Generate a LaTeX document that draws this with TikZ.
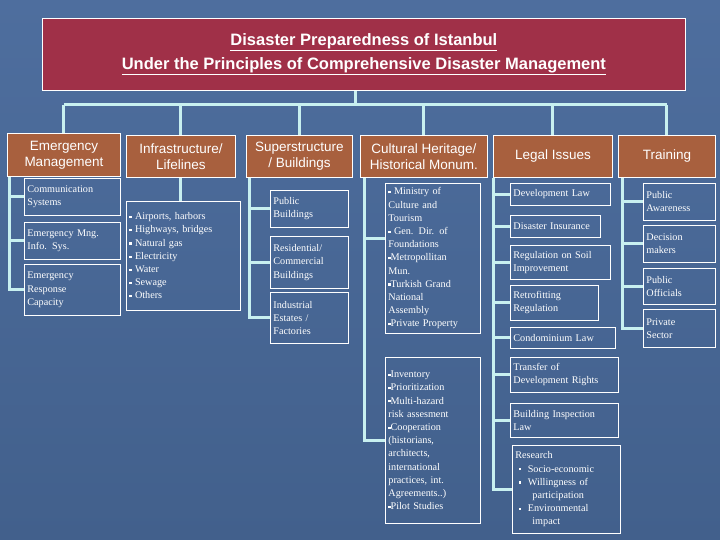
\documentclass[tikz,border=0pt]{standalone}
\usepackage{fontspec}
\setmainfont{Liberation Serif}
\newfontfamily\hdfont{Liberation Sans}
\newcommand\sq{\raisebox{.35ex}{\rule{2.2pt}{2.2pt}}}
\begin{document}
\begin{tikzpicture}[x=1pt,y=-1pt,
  conn/.style={draw={rgb,255:red,200;green,240;blue,240},line width=3pt},
  hd/.style={draw=white,line width=0.8pt,fill={rgb,255:red,168;green,96;blue,62},text=white,font=\hdfont\fontsize{13.5}{16}\selectfont,align=center,anchor=north west,inner sep=1pt},
  sb/.style={draw=white,line width=0.8pt,text=white,font=\fontsize{10.2}{13.2}\selectfont,align=left,anchor=north west,inner sep=3pt}]
\useasboundingbox (0,0) rectangle (720,540);
\shade[top color={rgb,255:red,78;green,110;blue,158},bottom color={rgb,255:red,66;green,96;blue,140}] (0,0) rectangle (720,540);
\node[draw=white,line width=0.8pt,fill={rgb,255:red,160;green,48;blue,72},text=white,font=\hdfont\bfseries\fontsize{16.5}{24}\selectfont,align=center,minimum width=643pt,minimum height=72pt,anchor=north west,inner sep=0pt] (title) at (42,18) {\underline{Disaster Preparedness of Istanbul}\\\underline{Under the Principles of Comprehensive Disaster Management}};
\coordinate (bar) at (355,105);
% headers
\node[hd,minimum width=113pt,minimum height=43pt] (em) at (7,133) {Emergency\\Management};
\node[hd,minimum width=109pt,minimum height=42pt] (inf) at (126,135) {Infrastructure/\\Lifelines};
\node[hd,minimum width=106pt,minimum height=42pt] (sup) at (246,135) {Superstructure\\/ Buildings};
\node[hd,minimum width=127pt,minimum height=42pt] (cul) at (360,135) {Cultural Heritage/\\Historical Monum.};
\node[hd,minimum width=119pt,minimum height=42pt] (leg) at (493,135) {Legal Issues};
\node[hd,minimum width=97pt,minimum height=42pt] (tr) at (618,135) {Training};
\draw[conn] (bar |- title.south) -- (bar);
\draw[conn] (em.north |- bar) -- (tr.north |- bar);
\foreach \n in {em,inf,sup,cul,leg,tr} \draw[conn] (\n.north) -- (\n.north |- bar);
% emergency
\node[sb,minimum width=96pt,minimum height=37pt,text width=90pt] (e1) at (24,178) {Communication\\Systems};
\node[sb,minimum width=96pt,minimum height=37pt,text width=90pt] (e2) at (24,222) {Emergency Mng.\\Info. Sys.};
\node[sb,minimum width=96pt,minimum height=51pt,text width=90pt] (e3) at (24,264) {Emergency\\Response\\Capacity};
\foreach \b in {e1,e2,e3} \draw[conn] ([xshift=2pt]em.south west) |- (\b.west);
% infrastructure
\node[sb,minimum width=114pt,minimum height=109pt,text width=108pt] (i1) at (126,201) {\sq\ Airports, harbors\\\sq\ Highways, bridges\\\sq\ Natural gas\\\sq\ Electricity\\\sq\ Water\\\sq\ Sewage\\\sq\ Others};
\draw[conn] (inf.south) -- (inf.south |- i1.north);
% superstructure
\node[sb,minimum width=78pt,minimum height=37pt,text width=72pt] (s1) at (270,190) {Public\\Buildings};
\node[sb,minimum width=78pt,minimum height=52pt,text width=72pt] (s2) at (270,236) {Residential/\\Commercial\\Buildings};
\node[sb,minimum width=78pt,minimum height=51pt,text width=72pt] (s3) at (270,292) {Industrial\\Estates /\\Factories};
\foreach \b in {s1,s2,s3} \draw[conn] ([xshift=3pt]sup.south west) |- (\b.west);
% cultural
\node[sb,minimum width=95pt,minimum height=150pt,text width=89pt] (c1) at (385,183) {\sq\ Ministry of\\Culture and\\Tourism\\\sq\ Gen. Dir. of\\Foundations\\\sq Metropollitan\\Mun.\\\sq Turkish Grand\\National\\Assembly\\\sq Private Property};
\node[sb,minimum width=95pt,minimum height=166pt,text width=89pt] (c2) at (385,357) {\sq Inventory\\\sq Prioritization\\\sq Multi-hazard\\risk assesment\\\sq Cooperation\\(historians,\\architects,\\international\\practices, int.\\Agreements..)\\\sq Pilot Studies};
\draw[conn] ([xshift=4pt]cul.south west) |- ([yshift=-55pt]c1.north west);
\draw[conn] ([xshift=4pt]cul.south west) |- (c2.west);
% legal
\node[sb,minimum width=100pt,minimum height=22pt,text width=94pt] (l1) at (510,183) {Development Law};
\node[sb,minimum width=90pt,minimum height=22pt,text width=84pt] (l2) at (510,215) {Disaster Insurance};
\node[sb,minimum width=100pt,minimum height=34pt,text width=94pt] (l3) at (510,245) {Regulation on Soil\\Improvement};
\node[sb,minimum width=88pt,minimum height=35pt,text width=82pt] (l4) at (510,285) {Retrofitting\\Regulation};
\node[sb,minimum width=105pt,minimum height=21pt,text width=99pt] (l5) at (510,327) {Condominium Law};
\node[sb,minimum width=108pt,minimum height=35pt,text width=102pt] (l6) at (510,357) {Transfer of\\Development Rights};
\node[sb,minimum width=108pt,minimum height=34pt,text width=102pt] (l7) at (510,403) {Building Inspection\\Law};
\node[sb,minimum width=108pt,minimum height=88pt,text width=102pt] (l8) at (512,445) {Research\\\ \sq\ \ Socio-economic\\\ \sq\ \ Willingness of\\\ \ \ \ \ participation\\\ \sq\ \ Environmental\\\ \ \ \ \ impact};
\foreach \b in {l1,l2,l3,l4,l5,l6,l7,l8} \draw[conn] (leg.south west) |- (\b.west);
% training
\node[sb,minimum width=72pt,minimum height=37pt,text width=66pt] (t1) at (643,183) {Public\\Awareness};
\node[sb,minimum width=72pt,minimum height=37pt,text width=66pt] (t2) at (643,225) {Decision\\makers};
\node[sb,minimum width=72pt,minimum height=36pt,text width=66pt] (t3) at (643,268) {Public\\Officials};
\node[sb,minimum width=72pt,minimum height=38pt,text width=66pt] (t4) at (643,309) {Private\\Sector};
\foreach \b in {t1,t2,t3,t4} \draw[conn] ([xshift=4pt]tr.south west) |- (\b.west);
\end{tikzpicture}
\end{document}
